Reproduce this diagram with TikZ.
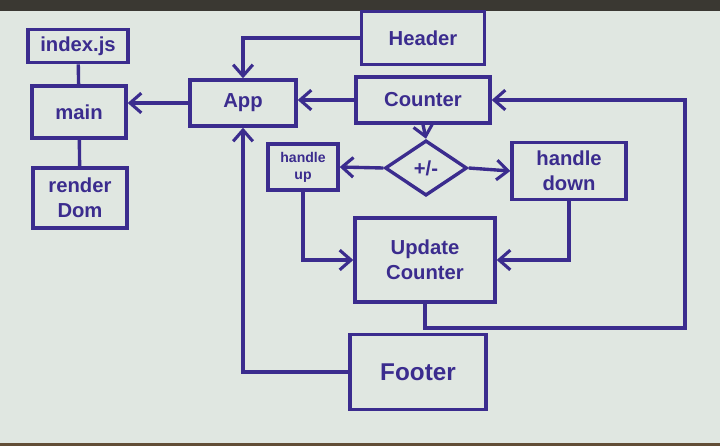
\documentclass[tikz,border=0pt]{standalone}
\usepackage{fontspec}
\setmainfont{Liberation Sans}
\usetikzlibrary{shapes.geometric,arrows.meta}

\definecolor{board}{HTML}{E0E7E1}
\definecolor{ink}{HTML}{3B2C8E}
\definecolor{frame}{HTML}{3A3832}

\begin{document}
\begin{tikzpicture}[x=0.025cm, y=-0.025cm,
        box/.style={draw=ink, line width=2.4pt, rectangle, text=ink, font=\Large\bfseries, align=center, inner sep=2pt},
        choice/.style={draw=ink, line width=2.4pt, diamond, aspect=1.5, text=ink, font=\Large\bfseries, inner sep=0pt},
        link/.style={draw=ink, line width=2.4pt},
        arrow/.style={link, -{Straight Barb[length=8pt, width=14pt, line width=2.2pt]}}]
        % board
        \fill[board] (0,0) rectangle (720,446);
        \fill[frame] (0,0) rectangle (720,11);
        \fill[frame!70!brown] (0,443) rectangle (720,446);
        \useasboundingbox (0,0) rectangle (720,446);

        % left column
        \node[box, minimum width=2.5cm, minimum height=0.83cm] (index) at (78,46) {index.js};
        \node[box, minimum width=2.35cm, minimum height=1.3cm] (main) at (79,112) {main};
        \node[box, minimum width=2.35cm, minimum height=1.5cm] (render) at (80,198) {render\\Dom};
        \draw[link] (index) -- (main);
        \draw[link] (main) -- (render);

        % components
        \node[box, minimum width=2.65cm, minimum height=1.15cm] (App) at (243,103) {App};
        \node[box, minimum width=3.08cm, minimum height=1.33cm] (Header) at (423,38) {Header};
        \node[box, minimum width=3.35cm, minimum height=1.15cm] (Counter) at (423,100) {Counter};
        \node[box, minimum width=3.4cm, minimum height=1.88cm, font=\LARGE\bfseries] (Footer) at (418,372) {Footer};

        % counter logic
        \node[choice, minimum width=2.05cm, minimum height=1.38cm] (pm) at (426,168) {+/-};
        \node[box, minimum width=1.75cm, minimum height=1.15cm, font=\normalsize\bfseries] (hup) at (303,167) {handle\\up};
        \node[box, minimum width=2.85cm, minimum height=1.43cm] (hdown) at (569,171) {handle\\down};
        \node[box, minimum width=3.5cm, minimum height=2.1cm] (upd) at (425,260) {Update\\Counter};
        \coordinate (loopR) at (685,328);

        \draw[arrow] (App.west) -- (App.west -| main.east);
        \draw[arrow] (Counter.west) -- (Counter.west -| App.east);
        \draw[arrow] (Header.west) -| (App.north);
        \draw[arrow] (Footer.west) -| (App.south);
        \draw[arrow] (Counter.south) -- (pm.north);
        \draw[arrow] (pm.west) -- (hup.east);
        \draw[arrow] (pm.east) -- (hdown.west);
        \draw[arrow] (hup.south) |- (upd.west);
        \draw[arrow] (hdown.south) |- (upd.east);
        \draw[arrow] (upd.south) |- (loopR) |- (Counter.east);
    \end{tikzpicture}
\end{document}
